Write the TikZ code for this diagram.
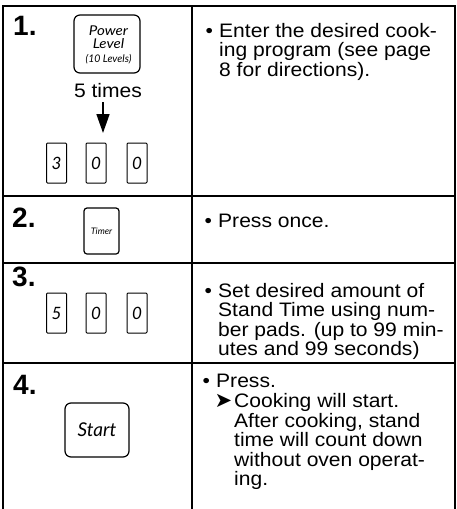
\documentclass[tikz,border=0pt]{standalone}
\usepackage{fontspec}
\usetikzlibrary{arrows.meta}
\setmainfont{Liberation Sans}
\newfontfamily\bodyf{Liberation Sans}[FakeStretch=1.08]
\newfontfamily\keyf{Lato}
\newfontfamily\keyw{Lato}[FakeStretch=1.12]
\newfontfamily\symf{DejaVu Sans}
\begin{document}
\begin{tikzpicture}[x=1pt,y=-1pt,
  grid/.style={line width=1.5pt},
  txt/.style={anchor=base west, inner sep=0pt, font=\bodyf\fontsize{19.5}{19.6}\selectfont},
  num/.style={anchor=base west, inner sep=0pt, font=\bfseries\fontsize{28}{28}\selectfont},
  keybox/.style={draw, line width=1pt, rounded corners=1pt, minimum width=20pt, minimum height=40pt, inner sep=0pt, font=\keyf\itshape\fontsize{17}{17}\selectfont},
  bigkey/.style={draw, line width=1.2pt, inner sep=0pt}
]
\useasboundingbox (0,0) rectangle (457,509);
% table grid
\draw[grid] (3,509) -- (3,6) -- (455,6) -- (455,509);
\draw[grid] (192,6) -- (192,509);
\draw[grid] (3,196) -- (455,196);
\draw[grid] (3,263) -- (455,263);
\draw[grid] (3,363) -- (455,363);
% step numbers
\node[num] (n1) at (13,35) {1.};
\node[num] (n2) at (12,227) {2.};
\node[num] (n3) at (12,286) {3.};
\node[num] (n4) at (13,394) {4.};
% row 1 keys
\node[bigkey, rounded corners=6pt, minimum width=66pt, minimum height=58pt] (pl) at (107,44) {};
\node[inner sep=0pt, align=center, font=\keyw\itshape\fontsize{13.5}{13.5}\selectfont] (plt) at (108.5,44.5)
  {Power\\Level\\{\keyf\itshape\fontsize{10.5}{13.5}\selectfont (10 Levels)}};
\node[txt, anchor=base] (five) at (108,97) {5 times};
\coordinate (ar1) at (103,102);
\coordinate (ar2) at (103,133);
\draw[line width=1.6pt, -{Triangle[width=13pt,length=19pt]}] (ar1) -- (ar2);
\node[keybox] (k1a) at (56.5,163) {3};
\node[keybox] (k1b) at (96,163) {0};
\node[keybox] (k1c) at (137,163) {0};
% row 1 text
\node[txt] (b1) at (205.5,37) {•};
\node[txt] (t1a) at (219,37) {Enter the desired cook-};
\node[txt] (t1b) at (219,56.5) {ing program (see page};
\node[txt] (t1c) at (219,76) {8 for directions).};
% row 2
\node[bigkey, rounded corners=3pt, minimum width=35pt, minimum height=46pt, font=\keyf\itshape\fontsize{9}{9}\selectfont] (tm) at (101.5,231) {Timer};
\node[txt] (b2) at (204.5,227) {•};
\node[txt] (t2a) at (218,227) {Press once.};
% row 3
\node[keybox] (k3a) at (56.5,313) {5};
\node[keybox] (k3b) at (96,313) {0};
\node[keybox] (k3c) at (137,313) {0};
\node[txt] (b3) at (204.5,297) {•};
\node[txt] (t3a) at (218,297) {Set desired amount of};
\node[txt] (t3b) at (218,316.5) {Stand Time using num-};
\node[txt] (t3c) at (218,336) {ber pads. (up to 99 min-};
\node[txt] (t3d) at (218,355.5) {utes and 99 seconds)};
% row 4
\node[bigkey, rounded corners=6pt, minimum width=64pt, minimum height=54pt, font=\keyf\itshape\fontsize{19}{19}\selectfont] (st) at (97,430) {Start};
\node[txt] (b4) at (202.5,387) {•};
\node[txt] (t4a) at (216,387) {Press.};
\node[txt, font=\symf\fontsize{21}{21}\selectfont] (ar4) at (214.5,407.5) {➤};
\node[txt] (t4b) at (234,407) {Cooking will start.};
\node[txt] (t4c) at (234,427) {After cooking, stand};
\node[txt] (t4d) at (234,446.5) {time will count down};
\node[txt] (t4e) at (234,466) {without oven operat-};
\node[txt] (t4f) at (234,485.5) {ing.};
\end{tikzpicture}
\end{document}
